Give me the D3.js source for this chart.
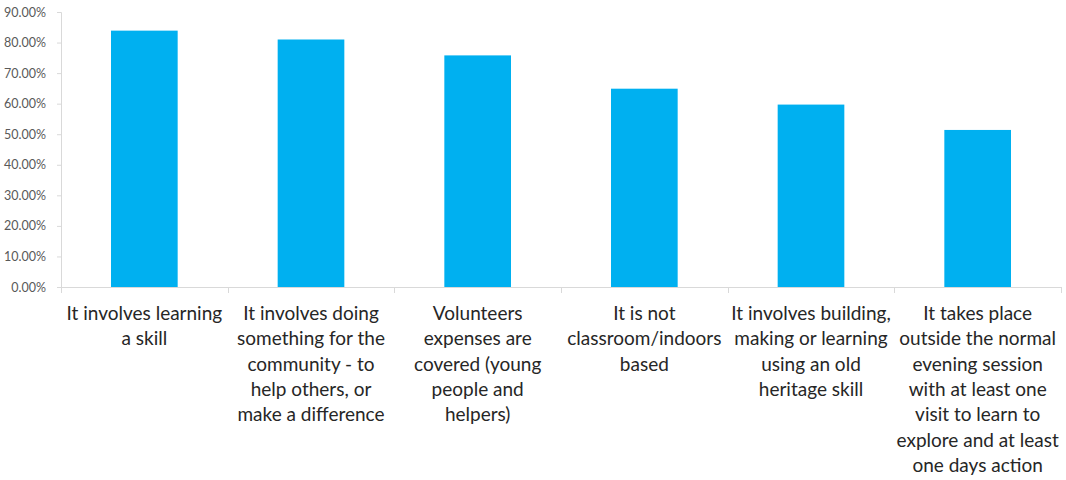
<!DOCTYPE html>
<html>
<head>
<meta charset="utf-8">
<script src="https://cdn.jsdelivr.net/npm/d3@7"></script>
<style>
  body { margin: 0; background: #fff; }
  svg { display: block; }
</style>
</head>
<body>
<script>
// chart size = window size
var width = 1066;
var height = 480;

// category labels, already broken into lines like the original
var categories = [
  ['It involves learning', 'a skill'],
  ['It involves doing', 'something for the', 'community - to', 'help others, or', 'make a difference'],
  ['Volunteers', 'expenses are', 'covered (young', 'people and', 'helpers)'],
  ['It is not', 'classroom/indoors', 'based'],
  ['It involves building,', 'making or learning', 'using an old', 'heritage skill'],
  ['It takes place', 'outside the normal', 'evening session', 'with at least one', 'visit to learn to', 'explore and at least', 'one days action']
];
// percentages
var values = [83.9, 81.0, 75.8, 64.9, 59.7, 51.4];
// y axis ticks
var yTicks = [0, 10, 20, 30, 40, 50, 60, 70, 80, 90];

var margin = { top: 12, right: 5, bottom: 193, left: 61 };

var svg = d3.select('body').append('svg')
  .attr('width', width)
  .attr('height', height);

var g = svg.append('g')
  .attr('transform', 'translate(' + margin.left + ',' + margin.top + ')');

var w = width - margin.left - margin.right;
var h = height - margin.top - margin.bottom;

var x = d3.scaleBand()
  .domain(d3.range(categories.length))
  .range([0, w])
  .paddingInner(0.6)
  .paddingOuter(0.3);

var y = d3.scaleLinear()
  .domain([0, 90])
  .range([h, 0]);

// bars
g.selectAll('rect')
  .data(values)
  .enter().append('rect')
  .attr('x', function(d, i) { return x(i); })
  .attr('y', function(d) { return y(d); })
  .attr('width', x.bandwidth())
  .attr('height', function(d) { return h - y(d); })
  .attr('fill', '#00b0f0');

// y axis
var yAxis = g.append('g')
  .call(d3.axisLeft(y).tickValues(yTicks).tickSize(4).tickPadding(11)
    .tickFormat(function(d) { return d.toFixed(2) + '%'; }));
yAxis.selectAll('line, path').attr('stroke', '#d9d9d9');
yAxis.select('.domain').attr('d', 'M-4,0.5H0.5V' + (h + 0.5));
yAxis.selectAll('text')
  .attr('fill', '#595959')
  .style('font-family', 'Lato, "Liberation Sans", sans-serif')
  .style('font-size', '12.5px');

// x axis: baseline plus tick marks between categories
var xAxis = g.append('g').attr('transform', 'translate(0,' + h + ')');
xAxis.append('line')
  .attr('x1', 0).attr('x2', w)
  .attr('y1', 0.5).attr('y2', 0.5)
  .attr('stroke', '#d9d9d9');
xAxis.selectAll('.sep')
  .data(d3.range(categories.length + 1))
  .enter().append('line')
  .attr('class', 'sep')
  .attr('x1', function(i) { return Math.round(i * x.step()) + 0.5; })
  .attr('x2', function(i) { return Math.round(i * x.step()) + 0.5; })
  .attr('y1', 0).attr('y2', 6)
  .attr('stroke', '#d9d9d9');

// category labels
var labels = xAxis.selectAll('.lab')
  .data(categories)
  .enter().append('text')
  .attr('class', 'lab')
  .attr('text-anchor', 'middle')
  .attr('fill', '#262626')
  .style('font-family', 'Lato, "Liberation Sans", sans-serif')
  .style('font-size', '19px')
  .attr('transform', function(d, i) { return 'translate(' + (x(i) + x.bandwidth() / 2) + ',33)'; });

labels.selectAll('tspan')
  .data(function(d) { return d; })
  .enter().append('tspan')
  .attr('x', 0)
  .attr('dy', function(d, j) { return j === 0 ? 0 : 25.3; })
  .text(function(d) { return d; });
</script>
</body>
</html>
